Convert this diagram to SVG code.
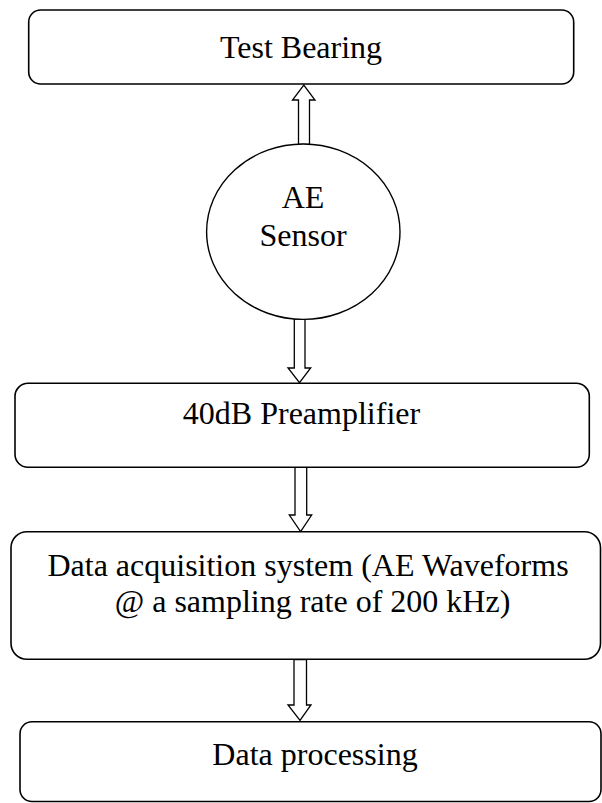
<svg xmlns="http://www.w3.org/2000/svg" width="602" height="803" viewBox="0 0 602 803">
<style>
.box{fill:#fff;stroke:#000;stroke-width:1.6}
.arr{fill:#fff;stroke:#000;stroke-width:1.3;stroke-linejoin:miter}
.t{font-family:"Liberation Serif","Times New Roman",serif;font-size:32px;fill:#000;text-anchor:middle}
</style>
<rect width="602" height="803" fill="#fff"/>
<g id="connectors">
<polygon class="arr" points="298.5,144.5 298.5,100 292.5,100 303.8,85 315,100 309.5,100 309.5,144.5"/>
<polygon class="arr" points="294.3,319 305,319 305,368 310.7,368 299.5,382.7 288,368 294.3,368"/>
<polygon class="arr" points="295,467.3 306.7,467.3 306.7,515 311.7,515 300.6,531.7 289.3,515 295,515"/>
<polygon class="arr" points="294,659.5 306.5,659.5 306.5,705 311,705 300,720.5 288,705 294,705"/>
</g>
<g id="test-bearing">
<rect class="box" x="28.7" y="10" width="545" height="74" rx="12"/>
<text class="t" x="301" y="57.5">Test Bearing</text>
</g>
<g id="ae-sensor">
<ellipse class="box" cx="303.3" cy="231.7" rx="96.7" ry="87.7" style="stroke-width:1.4"/>
<text class="t" x="303" y="208">AE</text>
<text class="t" x="303" y="246">Sensor</text>
</g>
<g id="preamplifier">
<rect class="box" x="15" y="383.3" width="574.3" height="84" rx="13"/>
<text class="t" x="301.5" y="424">40dB Preamplifier</text>
</g>
<g id="data-acquisition">
<rect class="box" x="11" y="531.7" width="589.5" height="127.6" rx="16"/>
<text class="t" x="308" y="575.5">Data acquisition system (AE Waveforms</text>
<text class="t" x="312.5" y="612">@ a sampling rate of 200 kHz)</text>
</g>
<g id="data-processing">
<rect class="box" x="20" y="721.7" width="581" height="79.8" rx="12"/>
<text class="t" x="315" y="765">Data processing</text>
</g>
</svg>
